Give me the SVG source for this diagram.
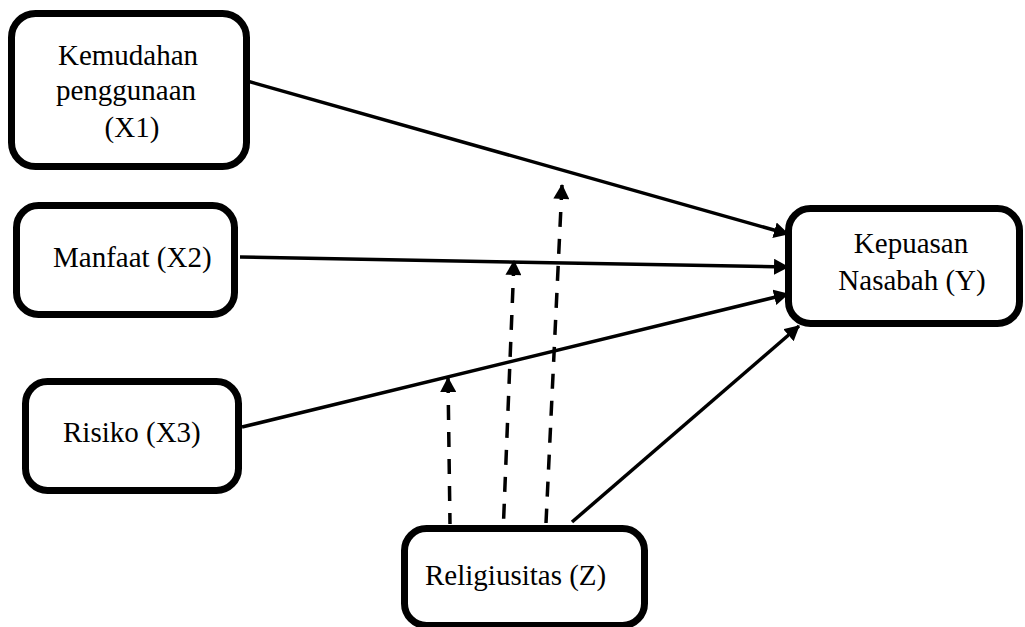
<svg xmlns="http://www.w3.org/2000/svg" width="1025" height="627" viewBox="0 0 1025 627">
<style>
.box{fill:#fff;stroke:#000;stroke-width:7}
.lbl{font-family:"Liberation Serif","Times New Roman",serif;font-size:29px;fill:#000}
.c{text-anchor:middle}
.ln{stroke:#000;stroke-width:3.5;fill:none;marker-end:url(#ah)}
.dash{stroke-dasharray:15 12}
</style>
<defs>
<marker id="ah" markerUnits="userSpaceOnUse" markerWidth="17" markerHeight="17" refX="14" refY="8" orient="auto" viewBox="0 0 17 17">
<path d="M0,0 L15,8 L0,16 z" fill="#000"/>
</marker>
</defs>
<rect width="1025" height="627" fill="#fff"/>
<g id="connectors">
<line class="ln" x1="240" y1="79" x2="788" y2="234"/>
<line class="ln" x1="240" y1="257" x2="788" y2="267"/>
<line class="ln" x1="242" y1="427" x2="788" y2="294"/>
<line class="ln" x1="572" y1="522" x2="799" y2="326"/>
<line class="ln dash" x1="448" y1="378" x2="450" y2="524" style="marker-end:none;marker-start:url(#ahs)"/>
<line class="ln dash" x1="514" y1="261" x2="503" y2="535" style="marker-end:none;marker-start:url(#ahs)"/>
<line class="ln dash" x1="562" y1="185" x2="546" y2="523" style="marker-end:none;marker-start:url(#ahs)"/>
</g>
<defs>
<marker id="ahs" markerUnits="userSpaceOnUse" markerWidth="17" markerHeight="17" refX="1" refY="8" orient="auto" viewBox="0 0 17 17">
<path d="M15,0 L0,8 L15,16 z" fill="#000"/>
</marker>
</defs>
<g id="x1">
<rect class="box" x="11.5" y="13.5" width="235" height="153" rx="24"/>
<text class="lbl c" x="128" y="65">Kemudahan</text>
<text class="lbl c" x="126" y="100">penggunaan</text>
<text class="lbl c" x="132" y="137">(X1)</text>
</g>
<g id="x2">
<rect class="box" x="16.5" y="205.5" width="218" height="109" rx="22"/>
<text class="lbl" x="53" y="267">Manfaat (X2)</text>
</g>
<g id="x3">
<rect class="box" x="25.5" y="381.5" width="213" height="109" rx="22"/>
<text class="lbl" x="63" y="442">Risiko (X3)</text>
</g>
<g id="y">
<rect class="box" x="788.5" y="208.5" width="231" height="115" rx="22"/>
<text class="lbl c" x="911" y="253">Kepuasan</text>
<text class="lbl c" x="912" y="290">Nasabah (Y)</text>
</g>
<g id="z">
<rect class="box" x="404.5" y="528.5" width="240" height="97" rx="22"/>
<text class="lbl" x="425" y="585">Religiusitas (Z)</text>
</g>
</svg>
